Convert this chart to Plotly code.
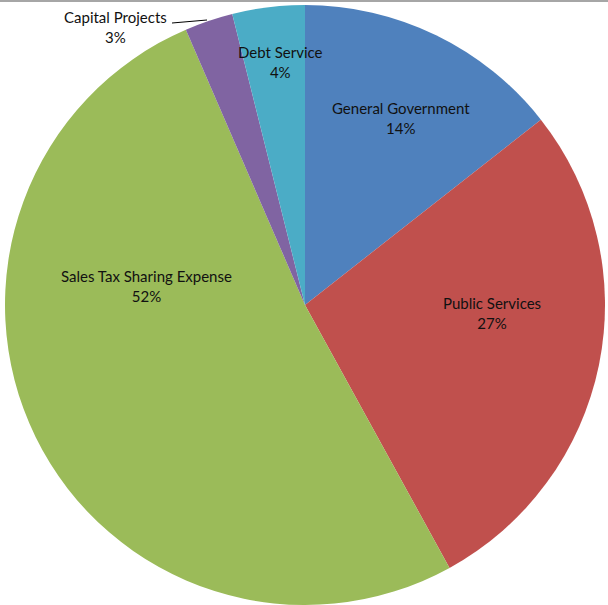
import plotly.graph_objects as go

categories = ["General Government", "Public Services", "Sales Tax Sharing Expense", "Capital Projects", "Debt Service"]
values = [14.4, 27.6, 51.5, 2.6, 3.9]
pct_labels = ["14%", "27%", "52%", "3%", "4%"]
colors = ["#4F81BD", "#C0504D", "#9BBB59", "#8064A2", "#4BACC6"]

W, H = 608, 605

fig = go.Figure(go.Pie(
    labels=categories, values=values, sort=False, direction="clockwise", rotation=0,
    marker=dict(colors=colors, line=dict(width=0)),
    textinfo="none", hoverinfo="label+percent", showlegend=False,
    domain=dict(x=[5 / W, 605 / W], y=[0, 600 / H]),
))

# label centers (pixels) for each category
label_pos = [(401, 118), (492, 313), (146, 286), (115, 27), (280, 62)]
for cat, pct, (px, py) in zip(categories, pct_labels, label_pos):
    fig.add_annotation(x=px / W, y=1 - py / H, xref="paper", yref="paper",
                       xanchor="center", yanchor="middle",
                       text=f"{cat}<br>{pct}", showarrow=False,
                       font=dict(family="Lato", size=15, color="#111111"),
                       align="center")

# leader line for Capital Projects
fig.add_shape(type="line", xref="paper", yref="paper",
              x0=172 / W, y0=1 - 23 / H, x1=207 / W, y1=1 - 20 / H,
              line=dict(color="black", width=1))
# top border line
fig.add_shape(type="line", xref="paper", yref="paper",
              x0=0, y0=1 - 1 / H, x1=1, y1=1 - 1 / H,
              line=dict(color="#A6A6A6", width=2))

fig.update_layout(width=W, height=H, margin=dict(l=0, r=0, t=0, b=0),
                  paper_bgcolor="white", plot_bgcolor="white")
fig.write_html("out.html")
